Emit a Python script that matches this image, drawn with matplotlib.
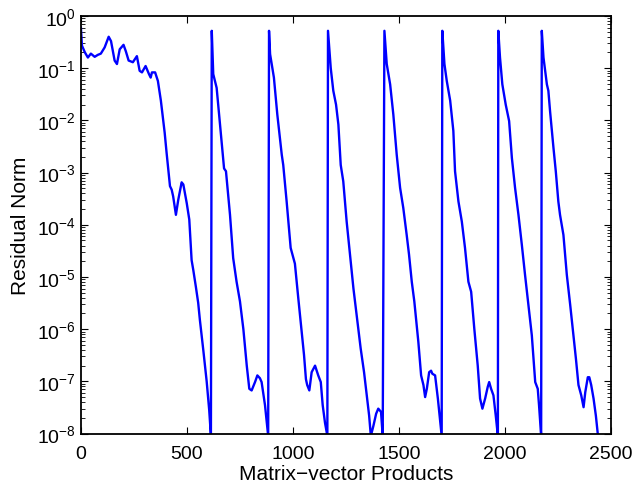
import numpy as np
import matplotlib
matplotlib.use("Agg")
import matplotlib.pyplot as plt

plt.rcParams['font.family'] = ['Liberation Sans', 'DejaVu Sans']
plt.rcParams['mathtext.default'] = 'regular'

# matrix-vector products and residual norm
matvecs = [0, 5, 19, 33, 47, 65, 80, 94, 112, 131, 142, 159, 170, 183, 201, 212,
           225, 245, 264, 277, 288, 305, 321, 329, 335, 350, 363, 377, 395, 404,
           420, 428, 435, 448, 459, 475, 483, 499, 511, 522, 530, 542, 553, 561,
           577, 593, 605, 613,
           617, 624, 640, 656, 675, 684, 703, 718, 734, 750, 766, 782, 794, 805,
           821, 832, 844, 852, 868, 883,
           887, 892, 910, 926, 947, 954, 970, 989, 1009, 1025, 1041, 1052, 1061,
           1067, 1077, 1088, 1104, 1119, 1131, 1140, 1151, 1162,
           1165, 1178, 1190, 1203, 1214, 1225, 1237, 1253, 1272, 1285, 1300, 1319,
           1335, 1348, 1359, 1367, 1379, 1392, 1402, 1415, 1423,
           1431, 1442, 1453, 1458, 1473, 1489, 1497, 1505, 1520, 1536, 1547, 1560,
           1572, 1591, 1604, 1615, 1623, 1631, 1642, 1651, 1657, 1670, 1683, 1693,
           1701,
           1704, 1714, 1725, 1741, 1756, 1764, 1780, 1796, 1811, 1827, 1840, 1855,
           1871, 1882, 1893, 1906, 1918, 1925, 1934, 1945, 1956, 1966,
           1968, 1976, 1987, 2003, 2019, 2032, 2047, 2063, 2079, 2094, 2110, 2126,
           2142, 2154, 2160, 2170,
           2173, 2181, 2197, 2204, 2212, 2228, 2239, 2251, 2259, 2275, 2291, 2307,
           2322, 2334, 2346, 2359, 2370, 2378, 2390, 2397, 2406, 2417, 2428, 2438]

residual = [0.6, 0.27, 0.2, 0.16, 0.19, 0.165, 0.18, 0.19, 0.25, 0.4, 0.33, 0.14,
            0.12, 0.23, 0.28, 0.21, 0.14, 0.13, 0.17, 0.089, 0.083, 0.11, 0.077,
            0.066, 0.083, 0.083, 0.057, 0.024, 0.0058, 0.0024, 5.5e-4, 4.7e-4,
            3.5e-4, 1.55e-4, 3e-4, 6.5e-4, 5.9e-4, 2.6e-4, 1.26e-4, 2.1e-5,
            1.35e-5, 6.5e-6, 3.2e-6, 1.5e-6, 4e-7, 1e-7, 2.8e-8, 9e-9,
            0.52, 0.077, 0.042, 0.0083, 0.0012, 0.00106, 1.55e-4, 2.3e-5, 8.1e-6,
            3.4e-6, 1.0e-6, 2e-7, 7.2e-8, 6.7e-8, 9.7e-8, 1.3e-7, 1.15e-7, 9.7e-8,
            3.5e-8, 9e-9,
            0.52, 0.186, 0.066, 0.013, 0.0022, 0.0014, 2.8e-4, 3.6e-5, 1.8e-5,
            3.9e-6, 8.9e-7, 3.2e-7, 1.1e-7, 8.5e-8, 6.7e-8, 1.5e-7, 2e-7, 1.3e-7,
            9.7e-8, 3.5e-8, 1.6e-8, 9e-9,
            0.52, 0.10, 0.037, 0.020, 0.0083, 0.0014, 6.8e-4, 1.15e-4, 2e-5, 6e-6,
            1.9e-6, 4.3e-7, 1.5e-7, 5.4e-8, 2.2e-8, 9e-9, 1.4e-8, 2.4e-8, 3e-8,
            2.6e-8, 9e-9,
            0.52, 0.12, 0.066, 0.049, 0.013, 0.0022, 0.00106, 5.1e-4, 2.1e-4,
            6.4e-5, 2.7e-5, 8.1e-6, 3.4e-6, 5.7e-7, 1.3e-7, 8.5e-8, 5e-8, 7.2e-8,
            1.5e-7, 1.6e-7, 1.4e-7, 1.3e-7, 4.7e-8, 1.9e-8, 9e-9,
            0.52, 0.12, 0.057, 0.024, 0.0063, 0.00106, 2.8e-4, 1.15e-4, 3.6e-5,
            8.1e-6, 5.2e-6, 1e-6, 2e-7, 4.7e-8, 3e-8, 4.7e-8, 7.8e-8, 9.7e-8,
            7.2e-8, 5.4e-8, 2.2e-8, 9e-9,
            0.52, 0.16, 0.049, 0.02, 0.0097, 0.0019, 5.1e-4, 1.55e-4, 4.1e-5,
            1.1e-5, 2.9e-6, 7.6e-7, 9.7e-8, 7.2e-8, 3.5e-8, 9e-9,
            0.52, 0.16, 0.049, 0.037, 0.015, 0.003, 0.00106, 2.8e-4, 1.55e-4,
            6.4e-5, 1.1e-5, 2.9e-6, 7.6e-7, 2.7e-7, 8.5e-8, 5.4e-8, 3.2e-8, 6.2e-8,
            1.2e-7, 1.2e-7, 8.5e-8, 4.7e-8, 2.2e-8, 9e-9]

fig = plt.figure(figsize=(6.32, 4.85), dpi=100)
ax = fig.add_axes([0.128, 0.104, 0.839, 0.861])

ax.semilogy(matvecs, residual, color=(0, 0, 1), linewidth=1.7)

ax.set_xlim(0, 2500)
ax.set_ylim(1e-8, 1e0)
ax.set_xticks([0, 500, 1000, 1500, 2000, 2500])
ax.set_yticks([10.0 ** k for k in range(-8, 1)])

ax.tick_params(which='both', direction='in', top=True, right=True, labelsize=14)
ax.tick_params(which='major', length=5, width=0.8)
ax.tick_params(which='minor', length=3, width=0.6)
ax.tick_params(axis='x', which='minor', bottom=False, top=False)
ax.tick_params(axis='x', pad=8)
for s in ax.spines.values():
    s.set_linewidth(1.3)

ax.set_xlabel("Matrix\u2212vector Products", fontsize=15, labelpad=2)
ax.set_ylabel("Residual Norm", fontsize=15, labelpad=5)

plt.savefig("out.png", dpi=100)
